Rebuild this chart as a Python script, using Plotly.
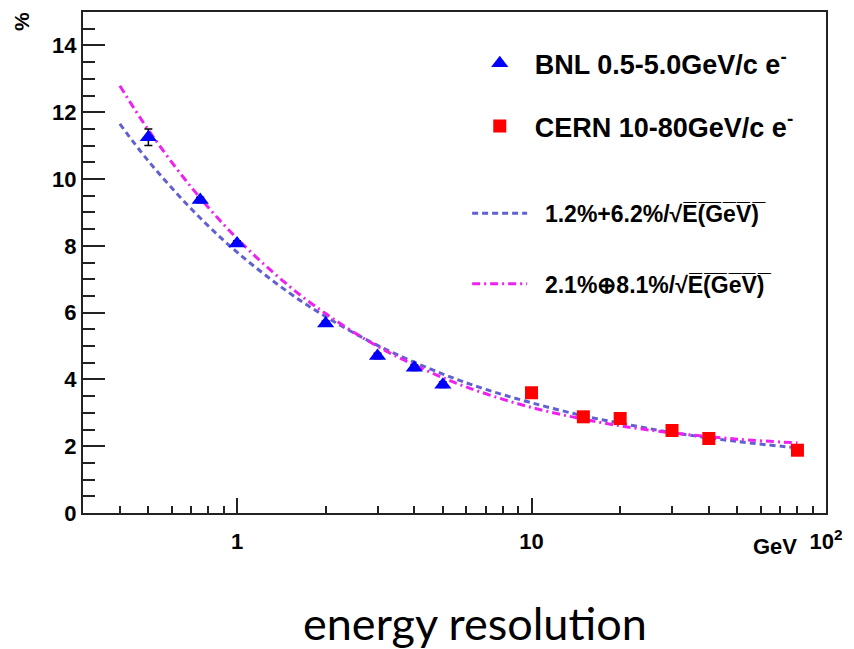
import plotly.graph_objects as go

# BNL beam test, 0.5-5 GeV electrons
bnl_e = [0.5, 0.75, 1, 2, 3, 4, 5]
bnl_res = [11.25, 9.37, 8.07, 5.67, 4.70, 4.35, 3.84]
bnl_err = [0.25, 0.08, 0.08, 0.08, 0.08, 0.08, 0.08]

# CERN beam test, 10-80 GeV electrons
cern_e = [10, 15, 20, 30, 40, 80]
cern_res = [3.60, 2.88, 2.83, 2.47, 2.23, 1.88]

# fit curves
fit_e = [0.4, 0.5, 0.7, 1, 1.5, 2, 3, 5, 7, 10, 15, 20, 30, 50, 80]
fit_lin = [11.65, 10.54, 9.10, 7.81, 6.60, 5.88, 5.02, 4.16, 3.70, 3.30, 2.91, 2.69, 2.41, 2.14, 1.95]
fit_quad = [12.79, 11.47, 9.75, 8.22, 6.80, 5.97, 4.99, 4.05, 3.57, 3.16, 2.81, 2.61, 2.40, 2.21, 2.10]

pad = "\u00a0\u00a0"
lbl_bnl = pad + "BNL 0.5-5.0GeV/c e<sup>-</sup>"
lbl_cern = pad + "CERN 10-80GeV/c e<sup>-</sup>"
ol = "\u0305"
sqrt_part = "\u221a" + "".join(c + ol for c in "E(GeV)")
lbl_lin = pad + "1.2%+6.2%/" + sqrt_part
lbl_quad = pad + "2.1%\u2295" + "8.1%/" + sqrt_part

x_tickvals = [1, 10, 100]
x_ticktext = ["1", "10", "10<sup>2</sup>"]

font = "Liberation Sans, Arial, sans-serif"
axcol = "#222"

# page body has an 8px margin, so the figure is shrunk by that much
off = 8

fig = go.Figure()

fig.add_trace(go.Scatter(x=fit_e, y=fit_lin, mode="lines", line_shape="spline",
                         line=dict(color="#6060d0", width=3, dash="6px,4px"),
                         name=lbl_lin, legend="legend3"))
fig.add_trace(go.Scatter(x=fit_e, y=fit_quad, mode="lines", line_shape="spline",
                         line=dict(color="#ee22ee", width=3, dash="8px,4px,2px,4px"),
                         name=lbl_quad, legend="legend4"))
fig.add_trace(go.Scatter(x=bnl_e, y=bnl_res, mode="markers",
                         marker=dict(symbol="triangle-up", size=15, color="#0000ff"),
                         error_y=dict(type="data", array=bnl_err, color="black", thickness=1.5, width=4),
                         name=lbl_bnl, legend="legend"))
fig.add_trace(go.Scatter(x=cern_e, y=cern_res, mode="markers",
                         marker=dict(symbol="square", size=13, color="#ff0000"),
                         name=lbl_cern, legend="legend2"))

def leg(x, y, size, iw=30):
    return dict(x=x, y=y, xanchor="left", yanchor="middle", bgcolor="rgba(0,0,0,0)",
                font=dict(family=font, size=size, color="black", weight="bold"),
                itemwidth=iw)

fig.update_layout(
    width=854 - off, height=649 - off,
    margin=dict(l=83 - off, r=28, t=10 - off, b=136),
    showlegend=True,
    plot_bgcolor="white", paper_bgcolor="white",
    legend=leg(0.534, (513 - 62) / 503, 27),
    legend2=leg(0.534, (513 - 125) / 503, 27),
    legend3=leg(0.517, (513 - 212) / 503, 23, 55),
    legend4=leg(0.517, (513 - 283) / 503, 23, 55),
    xaxis=dict(type="log", range=[-0.523, 2], tickvals=x_tickvals, ticktext=x_ticktext,
               ticks="inside", ticklen=15, tickwidth=2, tickcolor=axcol, ticklabelstandoff=8,
               showline=True, linecolor=axcol, linewidth=2, mirror=True,
               showgrid=False, zeroline=False,
               tickfont=dict(family=font, size=22, color="black", weight="bold"),
               minor=dict(ticks="inside", ticklen=7, tickwidth=1.5, tickcolor=axcol, dtick="D1", showgrid=False)),
    yaxis=dict(range=[0, 15], dtick=2, ticks="inside", ticklen=22, tickwidth=2, tickcolor=axcol,
               showline=True, linecolor=axcol, linewidth=2, mirror=True,
               showgrid=False, zeroline=False,
               tickfont=dict(family=font, size=22, color="black", weight="bold"),
               minor=dict(ticks="inside", ticklen=12, tickwidth=2, tickcolor=axcol, dtick=0.5, showgrid=False)),
    annotations=[
        dict(text="%", textangle=-90, x=-(83 - 22) / 743, y=(513 - 20) / 503,
             xref="paper", yref="paper", xanchor="center", yanchor="middle", showarrow=False,
             font=dict(family=font, size=21, color="black", weight="bold")),
        dict(text="GeV", x=(775 - 83) / 743, y=-(547 - 513) / 503, xref="paper", yref="paper",
             xanchor="center", yanchor="middle",
             showarrow=False, font=dict(family=font, size=22, color="black", weight="bold")),
        dict(text="energy resolution", x=(475 - 83) / 743, y=-(623 - 513) / 503, xref="paper",
             yref="paper", xanchor="center", yanchor="middle", showarrow=False,
             font=dict(family="Lato", size=45, color="black")),
    ],
)

fig.write_html("out.html")
